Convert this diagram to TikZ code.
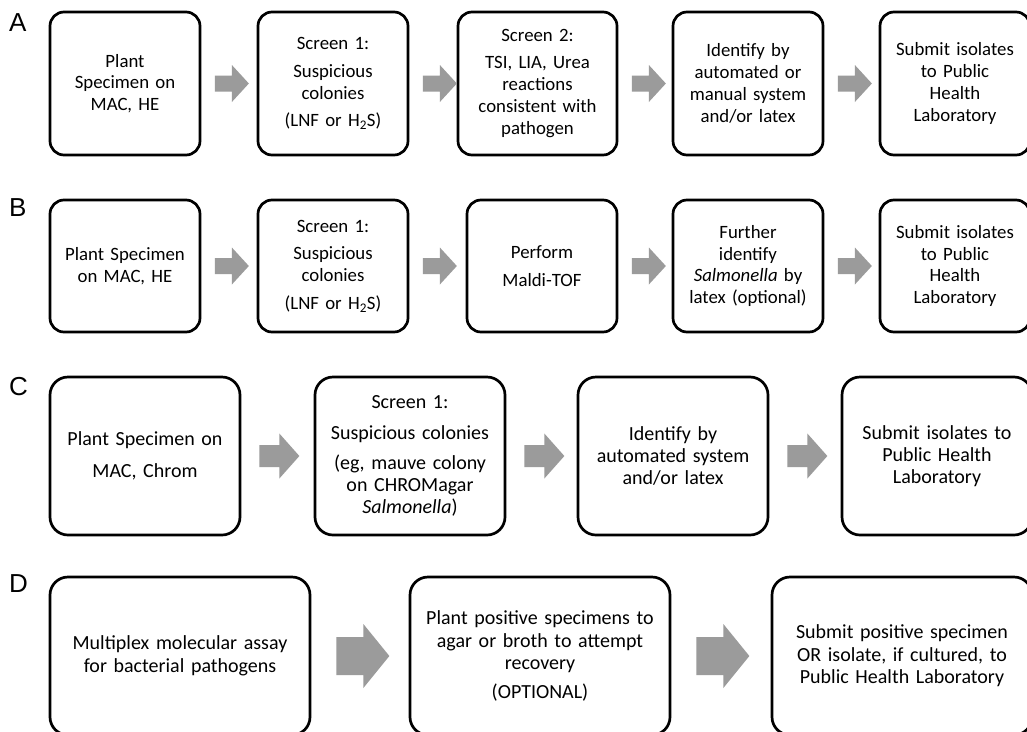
\documentclass[tikz,border=0pt]{standalone}
\usepackage{fontspec}
\setmainfont{Carlito}
\newfontfamily\labelfont{Liberation Sans}
\usetikzlibrary{calc}
\definecolor{arrowgray}{RGB}{155,155,155}
% #1 source node, #2 target node, #3 gap after source, #4 shaft length, #5 head length, #6 shaft half-height, #7 head half-height
\newcommand\blkarrow[7]{%
  \coordinate (ba) at ($(#1.east)+(#3,0)$);
  \fill[arrowgray] ($(ba)+(0,{-#6})$) -- ++(#4,0) -- ++(0,{#6-#7})
    -- ($(ba)+({#4+#5},0)$) -- ($(ba)+(#4,{#7})$) -- ++(0,{#6-#7})
    -- ($(ba)+(0,{#6})$) -- cycle;}
\tikzset{
  boxbase/.style={draw, line width=2.7pt, align=center, inner sep=0pt},
  boxA/.style={boxbase, rounded corners=14pt, minimum width=150pt, minimum height=143pt, text width=146pt, font=\fontsize{18.8}{21.8}\selectfont},
  boxB/.style={boxA, minimum height=132pt},
  boxC/.style={boxbase, rounded corners=18pt, minimum width=190pt, minimum height=158pt, text width=182pt, font=\fontsize{20}{22}\selectfont},
  boxD/.style={boxC, minimum width=260pt, text width=250pt, font=\fontsize{20}{22.6}\selectfont},
  rowlabel/.style={anchor=base west, inner sep=0pt, font=\labelfont\fontsize{26}{30}\selectfont}
}
\begin{document}
\begin{tikzpicture}[x=1pt,y=-1pt]
\useasboundingbox[fill=white] (0,0) rectangle (1027,731);
% labels
\node[rowlabel] (la) at (9,31) {A};
\node[rowlabel] (lb) at (9,216) {B};
\node[rowlabel] (lc) at (9,395) {C};
\node[rowlabel] (ld) at (9,592) {D};
% row A
\node[boxA] (a1) at (125,83.5) {Plant\\Specimen on\\MAC, HE};
\node[boxA] (a2) at (333,83.5) {Screen 1:\\[6pt]Suspicious\\colonies\\[6pt](LNF or H\textsubscript{2}S)};
\node[boxA, minimum width=159pt, text width=155pt] (a3) at (537.5,83.5) {Screen 2:\\[5pt]TSI, LIA, Urea\\reactions\\consistent with\\pathogen};
\node[boxA] (a4) at (748,83.5) {Identify by\\automated or\\manual system\\and/or latex};
\node[boxA] (a5) at (955,83.5) {Submit isolates\\to Public\\Health\\Laboratory};
\blkarrow{a1}{a2}{13.5}{17}{17}{8}{18.5}
\blkarrow{a2}{a3}{13.5}{17}{17}{8}{18.5}
\blkarrow{a3}{a4}{13.5}{17}{17}{8}{18.5}
\blkarrow{a4}{a5}{13.5}{17}{17}{8}{18.5}
% row B
\node[boxB] (b1) at (125,266) {Plant Specimen\\on MAC, HE};
\node[boxB] (b2) at (333,266) {Screen 1:\\[6pt]Suspicious\\colonies\\[6pt](LNF or H\textsubscript{2}S)};
\node[boxB] (b3) at (542,266) {Perform\\[6pt]Maldi-TOF};
\node[boxB] (b4) at (748,266) {Further\\identify\\\textit{Salmonella} by\\latex (optional)};
\node[boxB] (b5) at (955,266) {Submit isolates\\to Public\\Health\\Laboratory};
\blkarrow{b1}{b2}{13.5}{17}{17}{8}{18.5}
\blkarrow{b2}{b3}{13.5}{17}{17}{8}{18.5}
\blkarrow{b3}{b4}{13.5}{17}{17}{8}{18.5}
\blkarrow{b4}{b5}{13.5}{17}{17}{8}{18.5}
% row C
\node[boxC] (c1) at (145,456) {Plant Specimen on\\[10pt]MAC, Chrom};
\node[boxC] (c2) at (410,456) {Screen 1:\\[8.5pt]Suspicious colonies\\[8.5pt](eg, mauve colony\\on CHROMagar\\\textit{Salmonella})};
\node[boxC] (c3) at (673,456) {Identify by\\automated system\\and/or latex};
\node[boxC] (c4) at (937,456) {Submit isolates to\\Public Health\\Laboratory};
\blkarrow{c1}{c2}{18}{20}{20}{11}{22.5}
\blkarrow{c2}{c3}{18}{20}{20}{11}{22.5}
\blkarrow{c3}{c4}{18}{20}{20}{11}{22.5}
% row D
\node[boxD] (d1) at (180,656) {Multiplex molecular assay\\for bacterial pathogens};
\node[boxD] (d2) at (540,656) {Plant positive specimens to\\agar or broth to attempt\\recovery\\[6pt](OPTIONAL)};
\node[boxD] (d3) at (902,656) {Submit positive specimen\\OR isolate, if cultured, to\\Public Health Laboratory};
\blkarrow{d1}{d2}{25}{27}{26}{19}{32}
\blkarrow{d2}{d3}{25}{27}{26}{19}{32}
\end{tikzpicture}
\end{document}
